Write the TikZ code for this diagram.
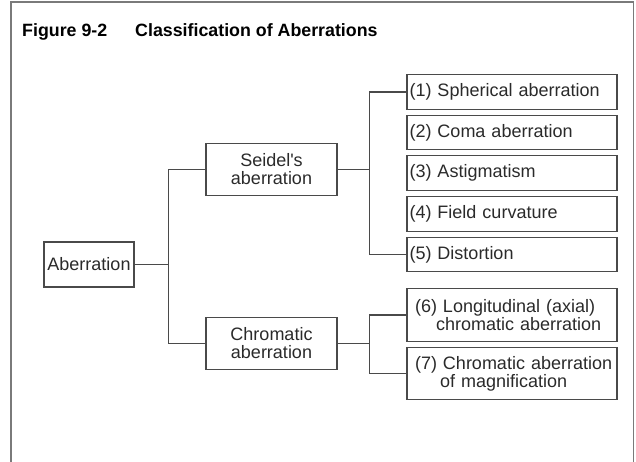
\documentclass[tikz,border=0pt]{standalone}
\usepackage{fontspec}
\setmainfont{Liberation Sans}
\usetikzlibrary{calc}
\definecolor{txt}{HTML}{2A2A2A}
\definecolor{framec}{HTML}{7A7A7A}
\definecolor{linec}{HTML}{4A4A4A}
\begin{document}
\begin{tikzpicture}[x=1pt,y=-1pt,
  every node/.style={text=txt, font=\fontsize{18}{18}\selectfont},
  cbox/.style={draw=linec, line width=1.1pt, align=center, inner sep=0pt},
  lbox/.style={draw=linec, line width=1.1pt, align=left, inner ysep=0pt,
               inner xsep=2.5pt, text width=205pt, minimum height=34.5pt},
  wbox/.style={draw=linec, line width=1.1pt, align=left, inner ysep=0pt,
               inner xsep=8pt, text width=194pt, minimum height=52.5pt},
  conn/.style={draw=linec, line width=1.1pt},
  frame/.style={draw=framec, line width=1.8pt}
]
\useasboundingbox (0,0) rectangle (636,461);
\draw[frame] (11,470) -- (11,2) -- (633.5,2) -- (633.5,470);

\node[anchor=base west, inner sep=0pt, font=\bfseries\fontsize{17.8}{20}\selectfont, text=black]
  (title) at (22,36) {Figure 9-2\hspace{28pt}Classification of Aberrations};

\node[cbox, minimum width=90pt, minimum height=45pt] (ab) at (89,264.5) {Aberration};
\node[cbox, minimum width=131pt, minimum height=52pt] (seidel) at (271.5,169.5) {Seidel\textquotesingle s\\aberration};
\node[cbox, minimum width=131pt, minimum height=52pt] (chrom) at (271.5,343.5) {Chromatic\\aberration};

\node[lbox] (b1) at (512,92) {(1) Spherical aberration};
\node[lbox] (b2) at (512,132.5) {(2) Coma aberration};
\node[lbox] (b3) at (512,173) {(3) Astigmatism};
\node[lbox] (b4) at (512,214) {(4) Field curvature};
\node[lbox] (b5) at (512,254.5) {(5) Distortion};
\node[wbox] (b6) at (512,315) {\mbox{(6) Longitudinal (axial)}\\\mbox{\hspace*{21pt}chromatic aberration}};
\node[wbox] (b7) at (512,373.5) {\mbox{(7) Chromatic aberration}\\\mbox{\hspace*{25pt}of magnification}};

\coordinate (j1) at ($(ab.east)+(34,0)$);
\coordinate (j2) at ($(seidel.east)+(32,0)$);
\coordinate (j3) at ($(chrom.east)+(32,0)$);

\draw[conn] (ab.east) -- (j1);
\draw[conn] (seidel.west) -| (j1) |- (chrom.west);
\draw[conn] (seidel.east) -- (j2);
\draw[conn] (b1.west) -| (j2) |- (b5.west);
\draw[conn] (chrom.east) -- (j3);
\draw[conn] (b6.west) -| (j3) |- (b7.west);
\end{tikzpicture}
\end{document}
